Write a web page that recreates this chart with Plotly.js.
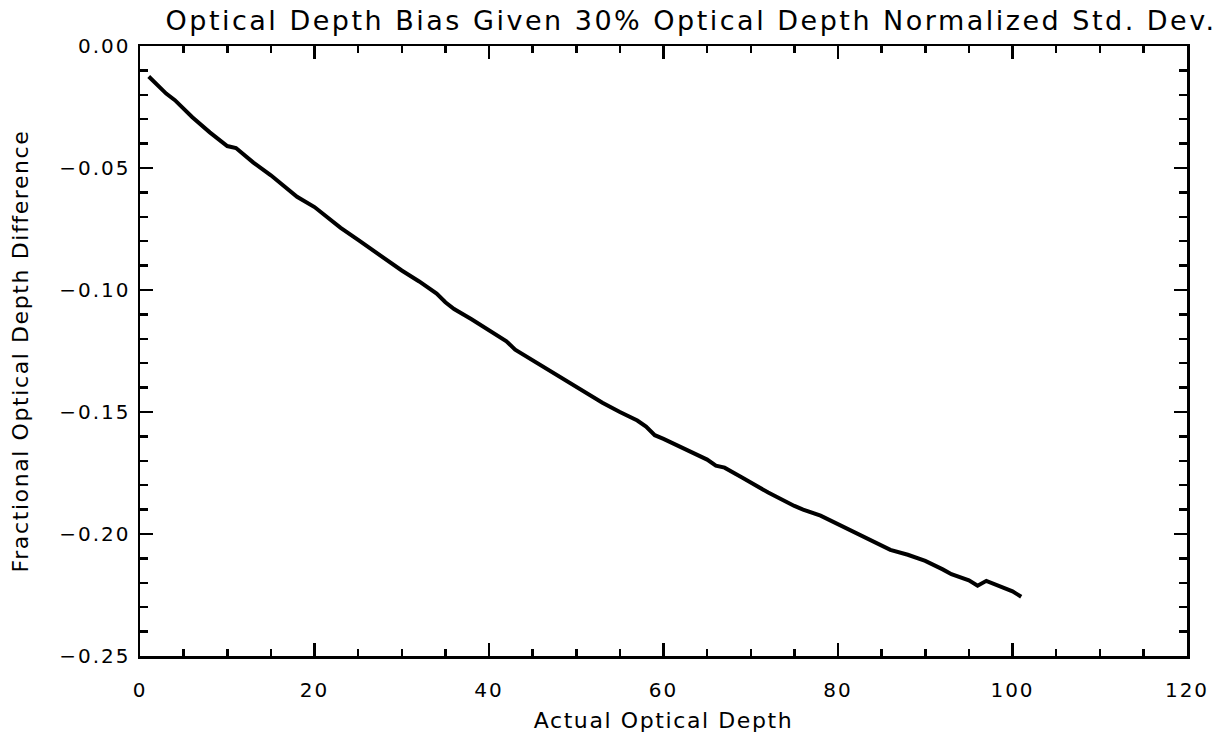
<!DOCTYPE html>
<html>
<head>
<meta charset="utf-8">
<script src="https://cdn.plot.ly/plotly-3.0.1.min.js"></script>
<style>
html,body{margin:0;padding:0;background:#fff;}
#chart{width:1221px;height:742px;}
#chart .gtitle{letter-spacing:2.5px;}
#chart .xtitle,#chart .ytitle{letter-spacing:1.6px;}
#chart .xtick text,#chart .ytick text{letter-spacing:2px;}
</style>
</head>
<body>
<div id="chart"></div>
<script>
const depth = [1, 2, 3, 4, 6, 8, 10, 11, 13, 15, 18, 20, 23, 25, 28, 30, 32, 34, 35, 36, 38, 40, 42, 43, 46, 50, 53, 55, 57, 58, 59, 60, 63, 65, 66, 67, 69, 72, 75, 76, 78, 80, 82, 84, 85, 86, 88, 90, 92, 93, 95, 96, 97, 99, 100, 101];
const bias = [-0.0125, -0.0160, -0.0195, -0.0222, -0.0292, -0.0354, -0.0410, -0.0418, -0.0478, -0.0530, -0.0618, -0.0660, -0.0745, -0.0795, -0.0870, -0.0920, -0.0965, -0.1015, -0.1050, -0.1078, -0.1120, -0.1163, -0.1210, -0.1245, -0.1310, -0.1395, -0.1462, -0.1500, -0.1535, -0.1560, -0.1595, -0.1610, -0.1660, -0.1695, -0.1720, -0.1728, -0.1768, -0.1830, -0.1885, -0.1900, -0.1925, -0.1960, -0.1995, -0.2030, -0.2045, -0.2065, -0.2085, -0.2110, -0.2145, -0.2165, -0.2190, -0.2212, -0.2192, -0.2220, -0.2235, -0.2257];
const xTickVals = [0, 20, 40, 60, 80, 100, 120];
const yTickVals = [0.00, -0.05, -0.10, -0.15, -0.20, -0.25];

const fontFam = 'DejaVu Sans, sans-serif';
const trace = {
  x: depth, y: bias, type: 'scatter', mode: 'lines',
  line: {color: '#000', width: 4}, hoverinfo: 'skip'
};
const axBase = {
  showgrid: false, zeroline: false, showline: true, linecolor: '#000', linewidth: 2.5,
  mirror: 'ticks', ticks: 'inside', ticklen: 13, tickwidth: 2.5, tickcolor: '#000',
  tickfont: {family: fontFam, size: 20, color: '#000'}
};
const layout = {
  width: 1221, height: 742,
  paper_bgcolor: '#fff', plot_bgcolor: '#fff',
  margin: {l: 140, r: 34, t: 46, b: 86},
  showlegend: false,
  title: {text: 'Optical Depth Bias Given 30% Optical Depth Normalized Std. Dev.',
          font: {family: fontFam, size: 27, color: '#000'},
          x: 0.566, xanchor: 'center', y: 0.972, yanchor: 'middle'},
  xaxis: Object.assign({}, axBase, {
    range: [0, 120], tickmode: 'array', tickvals: xTickVals,
    ticktext: xTickVals.map(String), ticklabelstandoff: 14,
    minor: {dtick: 5, tick0: 0, ticks: 'inside', ticklen: 7, tickwidth: 2.5, tickcolor: '#000', showgrid: false},
    title: {text: 'Actual Optical Depth', font: {family: fontFam, size: 22, color: '#000'}, standoff: 12}
  }),
  yaxis: Object.assign({}, axBase, {
    range: [-0.25, 0], tickmode: 'array', tickvals: yTickVals, ticklabelstandoff: 3,
    ticktext: yTickVals.map(v => (v < 0 ? '\u2212' : '') + Math.abs(v).toFixed(2)),
    minor: {dtick: 0.01, tick0: 0, ticks: 'inside', ticklen: 8, tickwidth: 2.5, tickcolor: '#000', showgrid: false},
    title: {text: 'Fractional Optical Depth Difference', font: {family: fontFam, size: 22, color: '#000'}, standoff: 35}
  })
};
Plotly.newPlot('chart', [trace], layout, {staticPlot: true, displayModeBar: false});
</script>
</body>
</html>
